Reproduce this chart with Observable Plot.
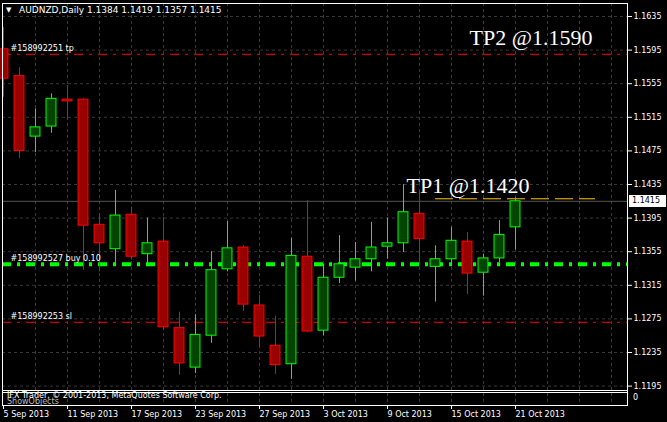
<!DOCTYPE html>
<html><head><meta charset="utf-8">
<script src="https://cdn.jsdelivr.net/npm/d3@7"></script>
<script src="https://cdn.jsdelivr.net/npm/@observablehq/plot@0.6"></script>
<style>
html,body{margin:0;padding:0;background:#000;}
#wrap{position:relative;width:667px;height:422px;overflow:hidden;background:#000;font-family:"DejaVu Sans",sans-serif;font-size:8px;color:#fff;}
#wrap svg{position:absolute;left:0;top:0;display:block;}
.ov{position:absolute;white-space:nowrap;line-height:10px;}
</style></head><body><div id="wrap"></div>
<script>
// ---- data ----
const symbol = "AUDNZD,Daily";
const dates = ["5 Sep 2013","6 Sep 2013","9 Sep 2013","10 Sep 2013","11 Sep 2013","12 Sep 2013","13 Sep 2013","16 Sep 2013","17 Sep 2013","18 Sep 2013","19 Sep 2013","20 Sep 2013","23 Sep 2013","24 Sep 2013","25 Sep 2013","26 Sep 2013","27 Sep 2013","30 Sep 2013","1 Oct 2013","2 Oct 2013","3 Oct 2013","4 Oct 2013","7 Oct 2013","8 Oct 2013","9 Oct 2013","10 Oct 2013","11 Oct 2013","14 Oct 2013","15 Oct 2013","16 Oct 2013","17 Oct 2013","18 Oct 2013","21 Oct 2013"];
const open  = [1.1596,1.1564,1.1492,1.1504,1.1536,1.1536,1.1387,1.1358,1.1399,1.1352,1.1367,1.1264,1.1217,1.1255,1.1334,1.1360,1.1291,1.1243,1.1221,1.1349,1.1261,1.1324,1.1336,1.1346,1.1361,1.1365,1.1400,1.1337,1.1346,1.1367,1.1330,1.1347,1.1384];
const high  = [1.1622,1.1574,1.1525,1.1543,1.1553,1.1537,1.1400,1.1428,1.1408,1.1395,1.1396,1.1283,1.1280,1.1355,1.1391,1.1362,1.1303,1.1278,1.1371,1.1416,1.1340,1.1374,1.1366,1.1390,1.1395,1.1435,1.1427,1.1362,1.1384,1.1378,1.1352,1.1392,1.1419];
const low   = [1.1539,1.1466,1.1473,1.1496,1.1512,1.1333,1.1331,1.1341,1.1345,1.1341,1.1261,1.1208,1.1210,1.1246,1.1331,1.1284,1.1241,1.1209,1.1203,1.1259,1.1255,1.1317,1.1320,1.1331,1.1346,1.1354,1.1343,1.1295,1.1341,1.1304,1.1302,1.1342,1.1357];
const close = [1.1561,1.1475,1.1503,1.1537,1.1534,1.1386,1.1365,1.1398,1.1349,1.1365,1.1265,1.1222,1.1256,1.1333,1.1359,1.1292,1.1254,1.1220,1.1350,1.1260,1.1324,1.1340,1.1346,1.1360,1.1365,1.1402,1.1370,1.1346,1.1368,1.1329,1.1347,1.1375,1.1415];
const priceTicks = [1.1195,1.1235,1.1275,1.1315,1.1355,1.1395,1.1435,1.1475,1.1515,1.1555,1.1595,1.1635];
const dateTicks = ["5 Sep 2013","11 Sep 2013","17 Sep 2013","23 Sep 2013","27 Sep 2013","3 Oct 2013","9 Oct 2013","15 Oct 2013","21 Oct 2013"];
const orderLabels = ["#158992251 tp","#158992527 buy 0.10","#158992253 sl"];
const orderPrices = [1.1590,1.1340,1.1271];
const tpLabels = ["TP1 @1.1420","TP2 @1.1590"];
const tpPrices = [1.1420,1.1590];
const tpAtBar = [25,29];
const tp1Guide = {fromBar:27, toBar:37, price:1.1418};
const footer = "IFX Trader, © 2001-2013, MetaQuotes Software Corp.";

// ---- build ----
const candles = dates.map((d,i)=>({i,date:d,open:open[i],high:high[i],low:low[i],close:close[i],up:close[i]>=open[i]}));
const last = candles[candles.length-1];
const orders = orderLabels.map((l,i)=>({label:l,price:orderPrices[i]}));
const tps = tpLabels.map((l,i)=>({label:l,price:tpPrices[i],at:tpAtBar[i]}));
const tickIdx = dateTicks.map(d=>dates.indexOf(d));
const gridIdx = d3.range(2,39,2);
const BULL="#00ff00", BEAR="#ff0000", BULLF="#004400", BEARF="#990000", GRID="#383838";

const chart = Plot.plot({
  width:667, height:422,
  marginLeft:2, marginRight:40, marginTop:3, marginBottom:17,
  style:{background:"#000", color:"#fff", fontFamily:"DejaVu Sans, sans-serif", fontSize:"8px", overflow:"visible"},
  x:{type:"linear", domain:[0,39], range:[3,627]},
  y:{domain:[1.1195,1.1635], range:[385.6,16]},
  color:{type:"identity"},
  marks:[
    Plot.gridY(priceTicks,{stroke:GRID, strokeOpacity:1, strokeDasharray:"3,3"}),
    Plot.gridX(gridIdx,{stroke:GRID, strokeOpacity:1, strokeDasharray:"3,3"}),
    Plot.ruleY([last],{y:"close", stroke:"#555"}),
    Plot.ruleY([orders[0],orders[2]],{y:"price", stroke:BEAR, strokeWidth:1, strokeDasharray:"9,6,3,6"}),
    Plot.ruleY([orders[1]],{y:"price", stroke:BULL, strokeWidth:4, strokeDasharray:"9,6,3,6"}),
    Plot.ruleY([tp1Guide],{y:"price", x1:"fromBar", x2:"toBar", stroke:"#ffc800", strokeWidth:1, strokeDasharray:"18,6"}),
    Plot.ruleX(candles,{x:"i", y1:"low", y2:"high", stroke:d=>d.up?BULL:BEAR}),
    Plot.rect(candles,{x1:d=>d.i-0.31, x2:d=>d.i+0.31, y1:"open", y2:"close", fill:d=>d.up?BULLF:BEARF, stroke:d=>d.up?BULL:BEAR, strokeWidth:1}),
    Plot.text(orders,{y:"price", text:"label", frameAnchor:"left", dx:8, dy:-5.5, textAnchor:"start", fill:"#fff", fontSize:8}),
    Plot.text([tps[0]],{x:"at", y:"price", text:"label", dx:3, dy:-11.6, textAnchor:"start", fill:"#fff", fontFamily:"Liberation Serif, serif", fontSize:22}),
    Plot.text([tps[1]],{x:"at", y:"price", text:"label", dx:2, dy:-16.8, textAnchor:"start", fill:"#fff", fontFamily:"Liberation Serif, serif", fontSize:22}),
    Plot.frame({stroke:"#fff"}),
    Plot.axisY(priceTicks,{anchor:"right", tickFormat:d3.format(".4f"), tickSize:4, tickPadding:2, label:null, fontSize:8}),
    Plot.axisX(tickIdx,{anchor:"bottom", tickFormat:i=>dates[i], tickSize:4, tickPadding:2, textAnchor:"start", label:null, fontSize:8})
  ]
});
const wrap = document.getElementById("wrap");
wrap.appendChild(chart);

function ov(text, css){
  const d=document.createElement("div"); d.className="ov"; d.textContent=text;
  Object.assign(d.style, css); wrap.appendChild(d); return d;
}
const fmt = d3.format(".4f");
// title
ov("▼", {left:"6px", top:"5px", fontSize:"7px"});
ov(`${symbol}  ${fmt(last.open)} ${fmt(last.high)} ${fmt(last.low)} ${fmt(last.close)}`, {left:"19px", top:"5px", fontSize:"9px"});
// sub-window
ov("", {left:"2px", top:"390px", width:"625px", height:"1px", background:"#fff"});
ov("", {left:"3px", top:"391px", width:"624px", height:"1px", background:"#000"});
ov("", {left:"2px", top:"392px", width:"625px", height:"1px", background:"#fff"});
ov("0", {left:"633px", top:"393px"});
ov("ShowObjects", {left:"7px", top:"397px", color:"#bbb"});
ov(footer, {left:"7px", top:"391px"});
// current price box
const yS = chart.scale("y");
ov(fmt(last.close), {left:"629px", top:(yS.apply(last.close)-6)+"px", width:"34px", height:"12px", lineHeight:"12px", background:"#fff", color:"#000", paddingLeft:"3px"});
</script></body></html>
